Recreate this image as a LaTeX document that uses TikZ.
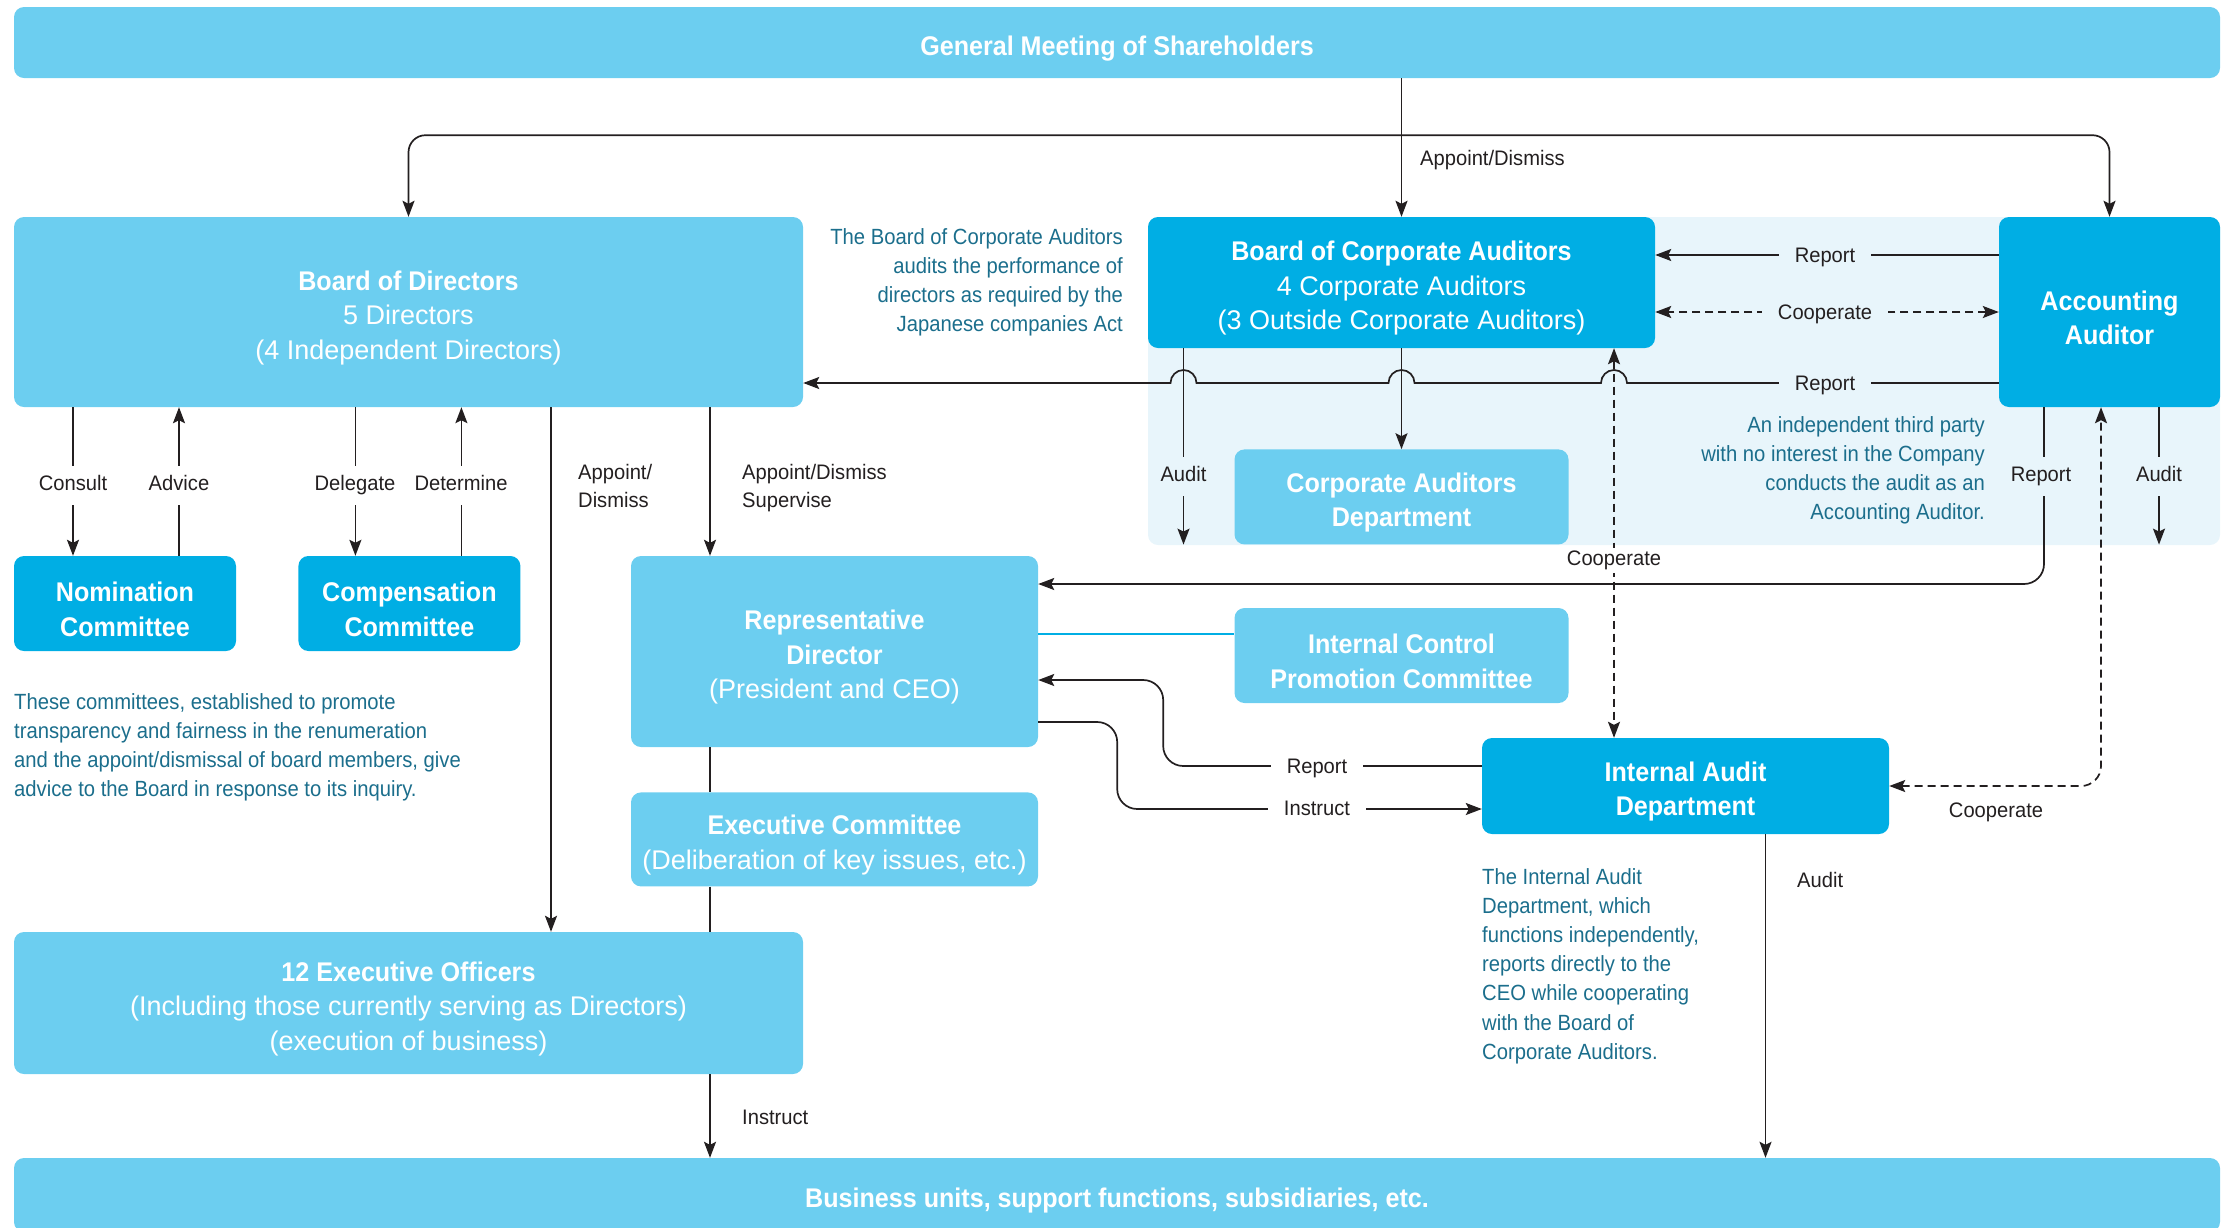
\documentclass[tikz,border=0pt]{standalone}
\usepackage{fontspec}
\setmainfont{Liberation Sans}[BoldFeatures={FakeStretch=0.93}]
\newfontfamily\notefont{Liberation Sans}[FakeStretch=0.92]
\newfontfamily\tagfont{Liberation Sans}[FakeStretch=0.96]
\usetikzlibrary{arrows.meta,positioning}

\definecolor{boxlight}{HTML}{6CCEF0}
\definecolor{boxdark}{HTML}{00AEE4}
\definecolor{panelbg}{HTML}{E8F5FB}
\definecolor{noteteal}{HTML}{1B6E8C}
\definecolor{inkgray}{HTML}{231F20}

% pushes the box text a little lower
\newcommand{\boxstrut}{\rule{0pt}{31pt}}

\begin{document}
\begin{tikzpicture}[
  x=1pt, y=-1pt,
  font=\tagfont\fontsize{21}{28}\selectfont, text=inkgray,
  box/.style={rounded corners=10pt, text=white, align=center, inner sep=0pt,
              font=\rmfamily\fontsize{27}{34.5}\selectfont},
  lightbox/.style={box, fill=boxlight},
  darkbox/.style={box, fill=boxdark},
  note/.style={text=noteteal, inner sep=0pt, font=\notefont\fontsize{22}{29.2}\selectfont},
  tag/.style={inner sep=0pt, text height=15pt, text depth=4pt},
  lbl/.style={fill=white, inner xsep=8pt, inner ysep=10pt, text height=15pt, text depth=4pt},
  hlbl/.style={lbl, inner xsep=16pt},
  plbl/.style={lbl, fill=panelbg},
  ln/.style={draw=inkgray, line width=1.7pt},
  arr/.style={ln, -{Stealth[length=16pt, width=12pt, inset=3pt]}},
  biarr/.style={ln, {Stealth[length=16pt, width=12pt, inset=3pt]}-{Stealth[length=16pt, width=12pt, inset=3pt]}},
  coop/.style={biarr, dash pattern=on 8pt off 5pt}
]
\useasboundingbox (0,0) rectangle (2234,1227);

% auditor panel
\fill[panelbg, rounded corners=10pt] (1148,217) rectangle (2220,545);

% boxes
\node[lightbox, minimum width=2206pt, minimum height=71pt] (gms) at (1117,42.5)
  {\boxstrut\textbf{General Meeting of Shareholders}};
\node[lightbox, minimum width=789pt, minimum height=190pt] (bod) at (408.5,312)
  {\boxstrut\textbf{Board of Directors}\\5 Directors\\(4 Independent Directors)};
\node[darkbox, minimum width=507pt, minimum height=131pt] (bca) at (1401.5,282.5)
  {\boxstrut\textbf{Board of Corporate Auditors}\\4 Corporate Auditors\\(3 Outside Corporate Auditors)};
\node[darkbox, minimum width=221pt, minimum height=190pt] (acc) at (2109.5,312)
  {\boxstrut\textbf{Accounting}\\\textbf{Auditor}};
\node[lightbox, minimum width=334pt, minimum height=95pt, below=101pt of bca] (cad)
  {\boxstrut\textbf{Corporate Auditors}\\\textbf{Department}};
\node[darkbox, minimum width=222pt, minimum height=95pt] (nom) at (125,603.5)
  {\boxstrut\textbf{Nomination}\\\textbf{Committee}};
\node[darkbox, minimum width=222pt, minimum height=95pt, right=62pt of nom] (comp)
  {\boxstrut\textbf{Compensation}\\\textbf{Committee}};
\node[lightbox, minimum width=407pt, minimum height=191pt] (rep) at (834.5,651.5)
  {\boxstrut\textbf{Representative}\\\textbf{Director}\\(President and CEO)};
\node[lightbox, minimum width=407pt, minimum height=94pt, below=45pt of rep] (exc)
  {\boxstrut\textbf{Executive Committee}\\(Deliberation of key issues, etc.)};
\node[lightbox, minimum width=334pt, minimum height=95pt] (icpc) at (1401.5,655.5)
  {\boxstrut\textbf{Internal Control}\\\textbf{Promotion Committee}};
\node[darkbox, minimum width=407pt, minimum height=96pt] (ia) at (1685.5,786)
  {\boxstrut\textbf{Internal Audit}\\\textbf{Department}};
\node[lightbox, minimum width=789pt, minimum height=142pt] (eo) at (408.5,1003)
  {\boxstrut\textbf{12 Executive Officers}\\(Including those currently serving as Directors)\\(execution of business)};
\node[lightbox, minimum width=2206pt, minimum height=74pt] (bus) at (1117,1195)
  {\boxstrut\textbf{Business units, support functions, subsidiaries, etc.}};

% notes
\node[note, anchor=north east, align=right] (bcanote) at (1123,228)
  {The Board of Corporate Auditors\\audits the performance of\\directors as required by the\\Japanese companies Act};
\node[note, anchor=north east, align=right] (accnote) at (1985,416)
  {An independent third party\\with no interest in the Company\\conducts the audit as an\\Accounting Auditor.};
\node[note, anchor=north west, align=left] (comnote) at (14,693)
  {These committees, established to promote\\transparency and fairness in the renumeration\\and the appoint/dismissal of board members, give\\advice to the Board in response to its inquiry.};
\node[note, anchor=north west, align=left] (ianote) at (1482,868)
  {The Internal Audit\\Department, which\\functions independently,\\reports directly to the\\CEO while cooperating\\with the Board of\\Corporate Auditors.};

% shareholders
\coordinate (split) at ([yshift=-57pt]gms.south -| bca.north);
\draw[arr] (gms.south -| bca.north) -- (bca.north);
\draw[arr, rounded corners=17pt] (split) -| (bod.north);
\draw[arr, rounded corners=17pt] (split) -| (acc.north);
\node[anchor=west, inner sep=0pt] (lapp1) at (1420,160) {Appoint/Dismiss};

% accounting auditor and corporate auditors
\draw[arr] ([yshift=57pt]acc.west) -- ([yshift=57pt]acc.west -| bca.east);
\draw[coop] (acc.west) -- (acc.west -| bca.east);
\draw[arr] ([yshift=-71pt]acc.west) -- (1627,383)
  arc[start angle=0, end angle=180, radius=13pt] -- (1414.5,383)
  arc[start angle=0, end angle=180, radius=13pt] -- (1196.5,383)
  arc[start angle=0, end angle=180, radius=13pt] -- ([yshift=-71pt]acc.west -| bod.east);
\draw[arr] ([xshift=-218pt]bca.south) -- ([xshift=-218pt]bca.south |- cad.south);
\draw[arr] (bca.south) -- (cad.north);
\draw[coop] ([xshift=212.5pt]bca.south) -- ([xshift=212.5pt]bca.south |- ia.north);
\draw[arr, rounded corners=20pt] ([xshift=-65.5pt]acc.south) |- ([yshift=67.5pt]rep.east);
\draw[arr] ([xshift=49.5pt]acc.south) -- ([xshift=49.5pt]acc.south |- cad.south);
\draw[coop, rounded corners=20pt] (ia.east) -| ([xshift=-8.5pt]acc.south);

% board of directors
\draw[arr] ([xshift=-52pt]nom.north |- bod.south) -- ([xshift=-52pt]nom.north);
\draw[arr] ([xshift=54pt]nom.north) -- ([xshift=54pt]nom.north |- bod.south);
\draw[arr] ([xshift=-54pt]comp.north |- bod.south) -- ([xshift=-54pt]comp.north);
\draw[arr] ([xshift=52pt]comp.north) -- ([xshift=52pt]comp.north |- bod.south);
\draw[arr] ([xshift=142.5pt]bod.south) -- ([xshift=142.5pt]bod.south |- eo.north);
\draw[arr] ([xshift=-124.5pt]rep.north |- bod.south) -- ([xshift=-124.5pt]rep.north);

% execution
\draw[ln] ([xshift=-124.5pt]rep.south) -- ([xshift=-124.5pt]exc.north);
\draw[ln] ([xshift=-124.5pt]exc.south) -- ([xshift=-124.5pt]exc.south |- eo.north);
\draw[arr] ([xshift=-124.5pt]exc.south |- eo.south) -- ([xshift=-124.5pt]exc.south |- bus.north);
\draw[boxdark, line width=2.5pt] ([yshift=17.5pt]rep.east) -- ([yshift=17.5pt]rep.east -| icpc.west);
\draw[arr, rounded corners=20pt] ([yshift=20pt]ia.west) -| ([xshift=125pt,yshift=-28.5pt]rep.east)
  -- ([yshift=-28.5pt]rep.east);
\draw[arr, rounded corners=20pt] ([yshift=-70.5pt]rep.east) -- ++(79,0) |- ([yshift=-23pt]ia.west);
\draw[arr] ([xshift=80pt]ia.south) -- ([xshift=80pt]ia.south |- bus.north);

% labels
\node[plbl, hlbl, fill=panelbg] (lrep1) at (1825,257) {Report};
\node[plbl, hlbl, fill=panelbg] (lcoop1) at (1825,314) {Cooperate};
\node[plbl, hlbl, fill=panelbg] (lrep2) at (1825,385) {Report};
\node[plbl] (laud1) at (1183.5,476) {Audit};
\node[lbl, inner ysep=3pt] (lcoop2) at (1614,560) {Cooperate};
\node[plbl] (lrep3) at (2041,476) {Report};
\node[plbl] (laud2) at (2159,476) {Audit};
\node[tag] (lcoop3) at (1996,812) {Cooperate};
\node[lbl] (lcons) at (73,485) {Consult};
\node[lbl] (ladv) at (179,485) {Advice};
\node[lbl] (ldel) at (355,485) {Delegate};
\node[lbl] (ldet) at (461,485) {Determine};
\node[anchor=north west, align=left, inner sep=0pt] (lapp2) at (578,464) {Appoint/\\Dismiss};
\node[anchor=north west, align=left, inner sep=0pt] (lapp3) at (742,464) {Appoint/Dismiss\\Supervise};
\node[anchor=west, inner sep=0pt] (linst1) at (742,1117) {Instruct};
\node[hlbl] (lrep4) at (1317,768) {Report};
\node[hlbl] (linst2) at (1317,810) {Instruct};
\node[anchor=west, inner sep=0pt] (laud3) at (1797,880) {Audit};
\end{tikzpicture}
\end{document}
